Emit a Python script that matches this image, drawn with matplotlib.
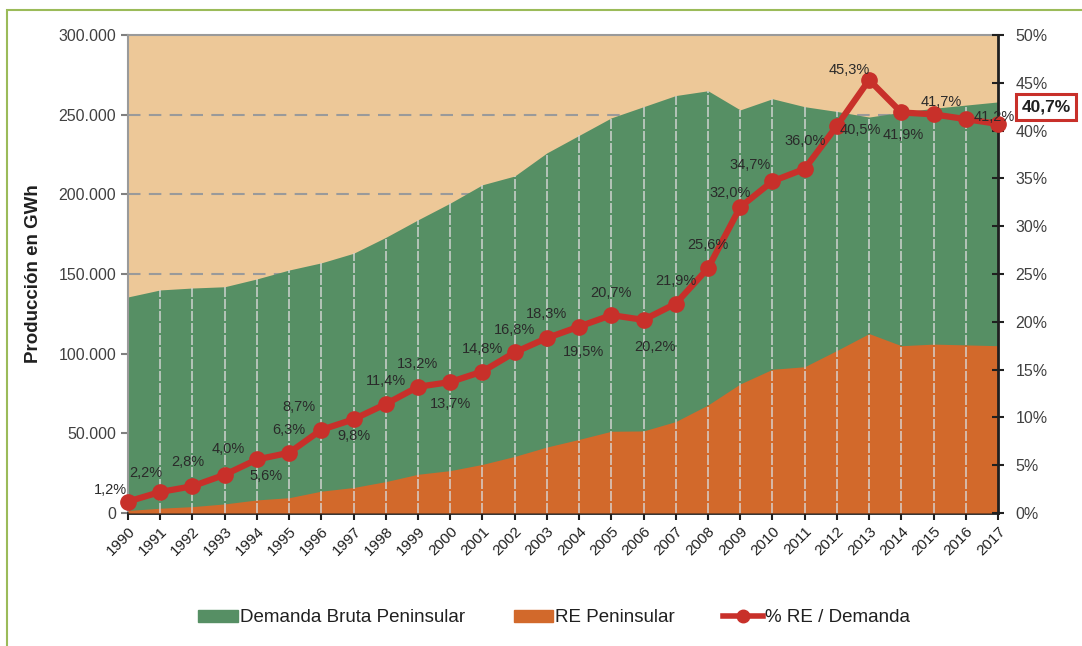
import matplotlib
matplotlib.use("Agg")
import matplotlib.pyplot as plt
from matplotlib.patches import Rectangle, Patch
from matplotlib.lines import Line2D
from matplotlib.ticker import FuncFormatter, MultipleLocator

plt.rcParams['font.family'] = ['Liberation Sans', 'DejaVu Sans']

years = list(range(1990, 2018))
demanda = [135600, 140000, 141200, 142000, 146900, 152500, 157000, 163000, 173000, 184000,
           194500, 206000, 211500, 226000, 237000, 248000, 255000, 262000, 265000, 253000,
           260000, 255000, 252000, 248500, 251500, 254000, 256000, 258000]
re_pen = [1600, 3000, 4000, 5700, 8200, 9600, 13700, 16000, 19700, 24300,
          26600, 30500, 35500, 41400, 46200, 51300, 51500, 57400, 67800, 81000,
          90200, 91800, 102000, 112600, 105000, 106000, 105500, 105000]
pct = [1.2, 2.2, 2.8, 4.0, 5.6, 6.3, 8.7, 9.8, 11.4, 13.2,
       13.7, 14.8, 16.8, 18.3, 19.5, 20.7, 20.2, 21.9, 25.6, 32.0,
       34.7, 36.0, 40.5, 45.3, 41.9, 41.7, 41.2, 40.7]
legend_labels = ["Demanda Bruta Peninsular", "RE Peninsular", "% RE / Demanda"]

# label offsets in pixels (dx, dy up)
offs = [(-18, 12), (-14, 19), (-5, 24), (4, 26), (9, -17), (0, 23), (-22, 23), (0, -17),
        (0, 23), (0, 23), (0, -22), (0, 23), (0, 22), (0, 24), (4, -25), (0, 22),
        (11, -27), (0, 23), (0, 23), (-10, 14), (-22, 16), (0, 28), (23, -4), (-20, 10),
        (2, -23), (8, 12), (28, 2), None]

BEIGE = '#EDC898'
GREEN = '#568F64'
ORANGE = '#D2692B'
RED = '#C8302A'
TXT = '#404040'

fig = plt.figure(figsize=(10.82, 6.46), dpi=100)
ax = fig.add_axes([128/1082, 1-513/646, 870/1082, 478/646])
ax.set_facecolor(BEIGE)
ax.set_xlim(1990, 2017)
ax.set_ylim(0, 300000)

for v in [50000, 100000, 150000, 200000, 250000]:
    ax.axhline(v, color='#9A9A9A', lw=1.5, ls=(0, (6, 4)), zorder=1)

ax.fill_between(years, 0, demanda, color=GREEN, lw=0, zorder=2)
ax.fill_between(years, 0, re_pen, color=ORANGE, lw=0, zorder=3)
for x, d in zip(years[1:-1], demanda[1:-1]):
    ax.plot([x, x], [0, d], color='#D8D8D8', lw=1.2, ls=(0, (6, 1.2)), alpha=0.85, zorder=4)

ax.yaxis.set_major_locator(MultipleLocator(50000))
ax.yaxis.set_major_formatter(FuncFormatter(lambda v, p: '0' if v == 0 else f"{int(v):,}".replace(',', '.')))
ax.set_xticks(years)
ax.set_xticklabels([str(y) for y in years], rotation=45, ha='right', rotation_mode='anchor', fontsize=11, color='#202020')
ax.tick_params(axis='y', labelsize=11.5, colors='#808080', labelcolor=TXT, direction='out', length=5, width=1.5)
ax.tick_params(axis='x', direction='out', length=5, width=1.5, color='#202020', pad=3)
for s in ['left', 'top']:
    ax.spines[s].set_color('#9A9A9A')
    ax.spines[s].set_linewidth(1.5)
ax.spines['right'].set_visible(False)
ax.spines['bottom'].set_color('#202020')
ax.spines['bottom'].set_linewidth(2)
ax.set_ylabel("Producción en GWh", fontsize=13.5, fontweight='bold', color='#202020', labelpad=12)

ax2 = ax.twinx()
ax2.set_ylim(0, 50)
ax2.yaxis.set_major_locator(MultipleLocator(5))
ax2.yaxis.set_major_formatter(FuncFormatter(lambda v, p: f"{int(v)}%"))
ax2.tick_params(axis='y', labelsize=11.5, labelcolor=TXT, color='#202020', direction='inout', length=9, width=1.5, pad=8)
ax2.spines['right'].set_color('#202020')
ax2.spines['right'].set_linewidth(2)
for s in ['left', 'top', 'bottom']:
    ax2.spines[s].set_visible(False)

ax2.plot(years, pct, color=RED, lw=4.5, marker='o', ms=11, zorder=5, clip_on=False)
for x, v, o in zip(years, pct, offs):
    if o is None:
        continue
    ax2.annotate(f"{v:.1f}%".replace('.', ','), (x, v), xytext=(o[0]*0.72, o[1]*0.72),
                 textcoords='offset points', ha='center', va='center', fontsize=10.5, color='#2a2a2a', zorder=6)

fig.text(1046/1082, 1-107/646, f"{pct[-1]:.1f}%".replace('.', ','), ha='center', va='center',
         fontsize=12.5, fontweight='bold', color='#202020',
         bbox=dict(boxstyle='square,pad=0.3', fc='white', ec=RED, lw=2.2))

handles = [Patch(color=GREEN), Patch(color=ORANGE),
           Line2D([0], [0], color=RED, lw=4, marker='o', ms=9)]
fig.legend(handles, legend_labels, loc='center', bbox_to_anchor=(554/1082, 1-618/646), ncol=3,
           frameon=False, fontsize=13.5, handlelength=2.1, handleheight=0.6,
           handletextpad=0.1, columnspacing=2.6, labelcolor='#202020')

fig.patches.append(Rectangle((7/1082, -0.1), 1.2, 1-10/646+0.1, transform=fig.transFigure,
                             fill=False, ec='#9BBB59', lw=1.5))

fig.savefig('out.png', dpi=100)
